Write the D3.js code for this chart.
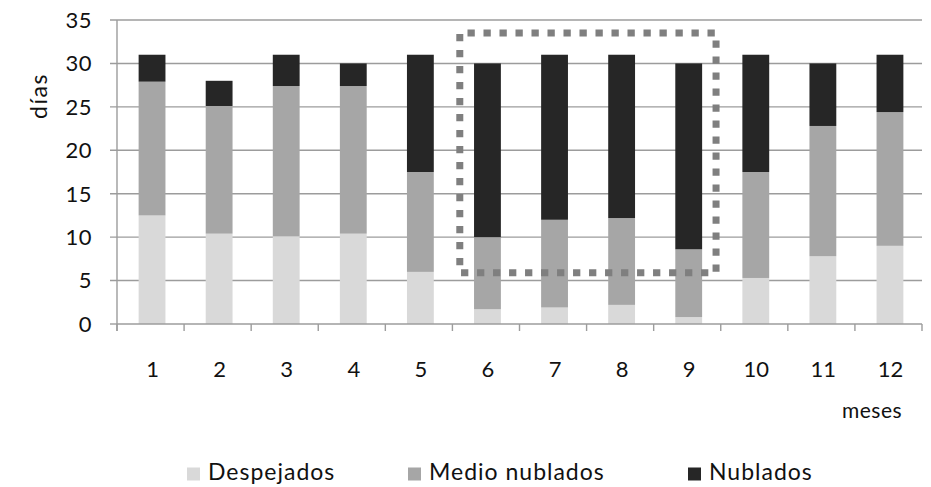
<!DOCTYPE html>
<html>
<head>
<meta charset="utf-8">
<script src="https://cdn.jsdelivr.net/npm/d3@7"></script>
<style>
  html, body { margin: 0; padding: 0; background: #fff; }
  svg { display: block; }
  text { font-family: "Lato", "Open Sans", sans-serif; fill: #111; }
</style>
</head>
<body>
<svg id="chart" width="931" height="487"></svg>
<script>
// Monthly count of days by sky condition
const months = ["1", "2", "3", "4", "5", "6", "7", "8", "9", "10", "11", "12"];
const despejados = [12.5, 10.4, 10.1, 10.4, 6.0, 1.7, 1.9, 2.2, 0.8, 5.3, 7.8, 9.0];
const medioNublados = [15.4, 14.7, 17.3, 17.0, 11.5, 8.3, 10.1, 10.0, 7.8, 12.2, 15.0, 15.4];
const nublados = [3.1, 2.9, 3.6, 2.6, 13.5, 20.0, 19.0, 18.8, 21.4, 13.5, 7.2, 6.6];
const yTicks = [0, 5, 10, 15, 20, 25, 30, 35];
const seriesNames = ["Despejados", "Medio nublados", "Nublados"];
const seriesColors = ["#d9d9d9", "#a6a6a6", "#262626"];
// highlighted block of months (6–9) and its value span
const highlightMonths = ["6", "9"];
const highlightRange = [5.9, 33.5];

const svg = d3.select("#chart");
const plotLeft = 117, plotRight = 922, plotTop = 20, plotBottom = 324;

const y = d3.scaleLinear().domain([0, 35]).range([plotBottom, plotTop]);
const xBand = d3.scaleBand().domain(months).range([plotLeft, plotRight]).padding(0);
const xBar = d3.scaleBand().domain(months).range([plotLeft, plotRight])
  .paddingInner(0.6).paddingOuter(0.3);

const gridColor = "#9c9c9c";

// horizontal gridlines + y ticks
svg.append("g").selectAll("line").data(yTicks).join("line")
  .attr("x1", plotLeft - 7).attr("x2", d => d === 0 ? plotLeft : plotRight)
  .attr("y1", d => y(d)).attr("y2", d => y(d))
  .attr("stroke", gridColor).attr("stroke-width", 1.4);

// y tick labels
svg.append("g").selectAll("text").data(yTicks).join("text")
  .attr("x", 92).attr("y", d => y(d))
  .attr("dy", "0.36em")
  .attr("text-anchor", "end")
  .style("font-size", "22px")
  .style("letter-spacing", "0.5px")
  .text(d => d);

// y axis title
svg.append("text")
  .attr("transform", "translate(47,96) rotate(-90)")
  .attr("text-anchor", "middle")
  .style("font-size", "23px")
  .style("letter-spacing", "1.5px")
  .text("días");

// stacked bars
const rows = months.map((m, i) => ({
  month: m,
  Despejados: despejados[i],
  "Medio nublados": medioNublados[i],
  Nublados: nublados[i]
}));
const stack = d3.stack().keys(seriesNames)(rows);

svg.append("g").selectAll("g").data(stack).join("g")
  .attr("fill", (d, i) => seriesColors[i])
  .selectAll("rect").data(d => d).join("rect")
  .attr("x", d => xBar(d.data.month) + 1.5)
  .attr("width", xBar.bandwidth())
  .attr("y", d => y(d[1]))
  .attr("height", d => y(d[0]) - y(d[1]));

// x axis line and category boundary ticks
svg.append("line")
  .attr("x1", plotLeft).attr("x2", plotRight)
  .attr("y1", plotBottom).attr("y2", plotBottom)
  .attr("stroke", gridColor).attr("stroke-width", 1.4);
svg.append("line")
  .attr("x1", plotLeft).attr("x2", plotLeft)
  .attr("y1", plotTop).attr("y2", plotBottom + 7)
  .attr("stroke", gridColor).attr("stroke-width", 1.4);
const edges = months.map(m => xBand(m)).concat([plotRight]);
svg.append("g").selectAll("line").data(edges).join("line")
  .attr("x1", d => d).attr("x2", d => d)
  .attr("y1", plotBottom).attr("y2", plotBottom + 7)
  .attr("stroke", gridColor).attr("stroke-width", 1.4);

// x tick labels
svg.append("g").selectAll("text").data(months).join("text")
  .attr("x", d => xBand(d) + xBand.bandwidth() / 2 + 2)
  .attr("y", 377)
  .attr("text-anchor", "middle")
  .style("font-size", "22px")
  .text(d => d);

// x axis title
svg.append("text")
  .attr("x", 872).attr("y", 418)
  .attr("text-anchor", "middle")
  .style("font-size", "21px")
  .style("letter-spacing", "0.5px")
  .text("meses");

// dotted highlight around months 6–9
const bw = xBand.bandwidth();
const hx0 = xBand(highlightMonths[0]) + bw * 0.11;
const hx1 = xBand(highlightMonths[1]) + bw * 0.93;
svg.append("rect")
  .attr("x", hx0).attr("y", y(highlightRange[1]))
  .attr("width", hx1 - hx0)
  .attr("height", y(highlightRange[0]) - y(highlightRange[1]))
  .attr("fill", "none")
  .attr("stroke", "#7f7f7f")
  .attr("stroke-width", 7)
  .attr("stroke-dasharray", "7.3 8.7")
  .attr("stroke-dashoffset", -7.7);

// legend
const legendX = [187, 408, 688];
const legend = svg.append("g").selectAll("g").data(seriesNames).join("g")
  .attr("transform", (d, i) => `translate(${legendX[i]},467.5)`);
legend.append("rect")
  .attr("width", 13).attr("height", 13)
  .attr("fill", (d, i) => seriesColors[i]);
legend.append("text")
  .attr("x", 21).attr("y", 12.5)
  .style("font-size", "23px")
  .style("letter-spacing", "1px")
  .text(d => d);
</script>
</body>
</html>
